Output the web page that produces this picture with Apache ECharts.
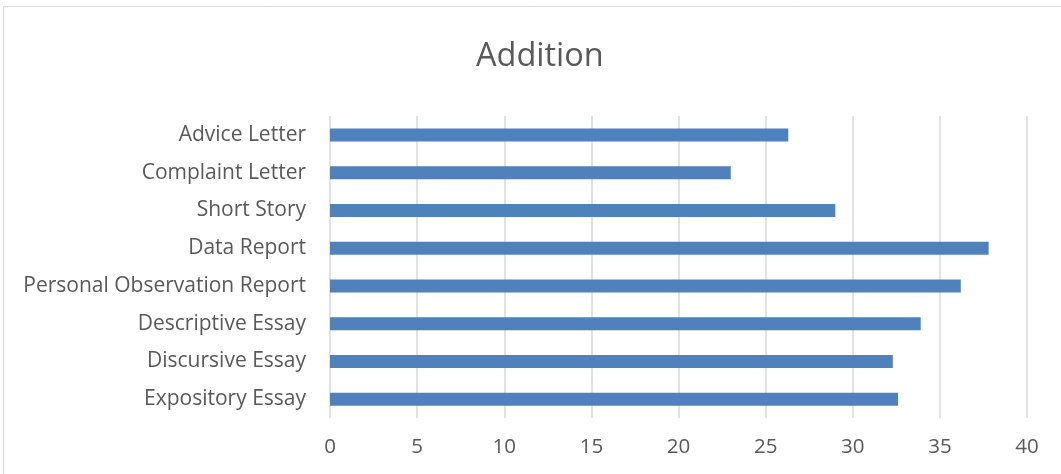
<!DOCTYPE html>
<html><head><meta charset="utf-8">
<script src="https://cdn.jsdelivr.net/npm/echarts@6/dist/echarts.min.js"></script>
<style>html,body{margin:0;padding:0;background:#fff}#c{width:1061px;height:474px}</style>
</head><body><div id="c"></div>
<script>
const categories = ["Expository Essay","Discursive Essay","Descriptive Essay","Personal Observation Report","Data Report","Short Story","Complaint Letter","Advice Letter"];
const values = [32.6, 32.3, 33.9, 36.2, 37.8, 29.0, 23.0, 26.3];
const xTicks = [0, 5, 10, 15, 20, 25, 30, 35, 40];
const titleText = "Addition";

const chart = echarts.init(document.getElementById('c'), null, {renderer:'canvas'});
const font = "'Open Sans', Lato, sans-serif";
chart.setOption({
  animation: false,
  backgroundColor: '#fff',
  graphic: [{type:'rect', shape:{x:3.5,y:6.5,width:1100,height:500}, style:{fill:'none', stroke:'#d9d9d9', lineWidth:1}}],
  title: {text: titleText, left: 476, top: 40, padding: 0, textStyle:{fontFamily: font, fontSize: 32.5, fontWeight:'normal', color:'#595959'}},
  grid: {left: 330, right: 34, top: 116, height: 302},
  xAxis: {type:'value', min: xTicks[0], max: xTicks[xTicks.length-1], interval: 5,
    axisLine:{show:false}, axisTick:{show:false},
    splitLine:{lineStyle:{color:'#d9d9d9', width:1.5}},
    axisLabel:{fontFamily: font, fontSize: 20.5, color:'#595959', margin: 19}},
  yAxis: {type:'category', data: categories,
    axisLine:{show:false}, axisTick:{show:false},
    axisLabel:{fontFamily: font, fontSize: 21, color:'#595959', margin: 24, padding: [4,0,0,0]}},
  series: [{type:'bar', data: values, barWidth: 13, itemStyle:{color:'#4F81BD'}}]
});
</script></body></html>
